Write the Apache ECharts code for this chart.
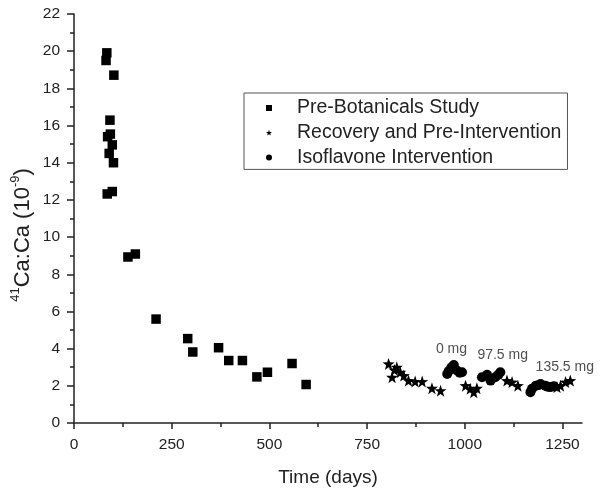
<!DOCTYPE html>
<html>
<head>
<meta charset="utf-8">
<script src="https://cdn.jsdelivr.net/npm/echarts@6/dist/echarts.min.js"></script>
<style>html,body{margin:0;padding:0;background:#fff}#c{width:602px;height:492px}</style>
</head>
<body>
<div id="c"></div>
<script>
// ---- data (days, 41Ca:Ca x10^-9) ----
const preBotanicals = [[84,19.91],[82,19.5],[102,18.71],[92,16.29],[93,15.54],[86,15.4],[98,14.96],[90,14.5],[101,14.0],[85,12.32],[98,12.45],[138,8.93],[157,9.09],[210,5.59],[291,4.54],[304,3.82],[370,4.05],[396,3.36],[431,3.36],[468,2.48],[495,2.73],[558,3.2],[594,2.07]];
const recovery = [[805,3.18],[814,2.46],[820,2.85],[826,3.0],[835,2.73],[844,2.55],[856,2.28],[873,2.23],[891,2.23],[916,1.87],[938,1.74],[1002,2.01],[1014,1.84],[1023,1.66],[1031,1.87],[1108,2.28],[1121,2.2],[1136,2.01],[1236,1.93],[1245,2.01],[1258,2.2],[1270,2.28]];
const isoflavone = [[955,2.64],[959,2.8],[966,3.0],[972,3.12],[980,2.82],[987,2.7],[993,2.73],[1044,2.46],[1057,2.59],[1066,2.28],[1078,2.46],[1086,2.6],[1091,2.73],[1168,1.66],[1172,1.84],[1182,2.01],[1190,2.05],[1194,2.1],[1206,2.01],[1212,1.95],[1219,1.93],[1228,1.98]];
const doseLabels = [[966,3.99,'0 mg'],[1097,3.66,'97.5 mg'],[1256,3.02,'135.5 mg']];
const xMajorTicks = [0,250,500,750,1000,1250];
const xMinorTicks = [125,375,625,875,1125];
const seriesNames = ['Pre-Botanicals Study','Recovery and Pre-Intervention','Isoflavone Intervention'];

const FONT = 'Liberation Sans, Arial, sans-serif';
const TXT = '#222';
const starPath = 'path://M0,-10L2.35,-3.24L9.51,-3.09L3.8,1.24L5.88,8.09L0,4L-5.88,8.09L-3.8,1.24L-9.51,-3.09L-2.35,-3.24Z';

const chart = echarts.init(document.getElementById('c'), null, {renderer:'canvas'});
const axisLine = {show:true, lineStyle:{color:TXT, width:1.5}};
chart.setOption({
  animation:false,
  backgroundColor:'#fff',
  grid:{left:74, right:20, top:14, bottom:68, containLabel:false},
  graphic:[{
    type:'text', x:21, y:235, rotation:Math.PI/2, silent:true,
    style:{
      text:'{sup|41}{base|Ca:Ca (10}{sup|-9}{base|)}',
      align:'center', verticalAlign:'middle',
      rich:{base:{fontFamily:FONT, fontSize:22, fill:TXT, lineHeight:25, verticalAlign:'bottom'},
            sup:{fontFamily:FONT, fontSize:13, fill:TXT, lineHeight:25, verticalAlign:'top'}}
    }
  }],
  legend:{
    orient:'vertical', left:244, top:93,
    padding:[5,6,2,22], itemGap:4.7, itemWidth:6, itemHeight:6,
    borderColor:'#555', borderWidth:1,
    formatter: n => '{t|' + n + '}',
    textStyle:{fontFamily:FONT, fontSize:19.5, color:TXT,
      rich:{t:{fontFamily:FONT, fontSize:19.5, color:TXT, padding:[0,0,0,20]}}},
    data:[
      {name:seriesNames[0], icon:'rect'},
      {name:seriesNames[1], icon:starPath},
      {name:seriesNames[2], icon:'circle'}
    ]
  },
  xAxis:[{
    type:'value', min:0, max:1300,
    name:'Time (days)', nameLocation:'middle', nameGap:45,
    nameTextStyle:{fontFamily:FONT, fontSize:19, color:TXT},
    axisLine:axisLine,
    axisTick:{show:true, customValues:xMajorTicks, length:6, lineStyle:{color:TXT, width:1.5}},
    axisLabel:{customValues:xMajorTicks, formatter:v=>String(v), margin:14, fontFamily:FONT, fontSize:15.5, color:TXT},
    splitLine:{show:false}
  },{
    type:'value', min:0, max:1300, position:'bottom',
    axisLine:{show:false},
    axisTick:{show:true, customValues:xMinorTicks, length:4, lineStyle:{color:TXT, width:1.5}},
    axisLabel:{show:false},
    splitLine:{show:false}
  }],
  yAxis:{
    type:'value', min:0, max:22, interval:2,
    axisLine:axisLine,
    axisTick:{show:true, length:7, lineStyle:{color:TXT, width:1.5}},
    minorTick:{show:true, splitNumber:2, length:4, lineStyle:{color:TXT, width:1.5}},
    axisLabel:{margin:14, fontFamily:FONT, fontSize:15.5, color:TXT},
    splitLine:{show:false}, minorSplitLine:{show:false}
  },
  series:[
    {name:seriesNames[0], type:'scatter', symbol:'rect', symbolSize:9.5, itemStyle:{color:'#000', opacity:1}, data:preBotanicals},
    {name:seriesNames[1], type:'scatter', symbol:starPath, symbolSize:12, itemStyle:{color:'#000', opacity:1}, data:recovery},
    {name:seriesNames[2], type:'scatter', symbol:'circle', symbolSize:10, itemStyle:{color:'#000', opacity:1}, data:isoflavone},
    {name:'doses', type:'scatter', symbolSize:0, silent:true,
      data:doseLabels.map(d=>({value:[d[0],d[1]], name:d[2]})),
      label:{show:true, position:'inside', formatter:p=>p.name, fontFamily:FONT, fontSize:14, color:TXT}}
  ]
});
</script>
</body>
</html>
